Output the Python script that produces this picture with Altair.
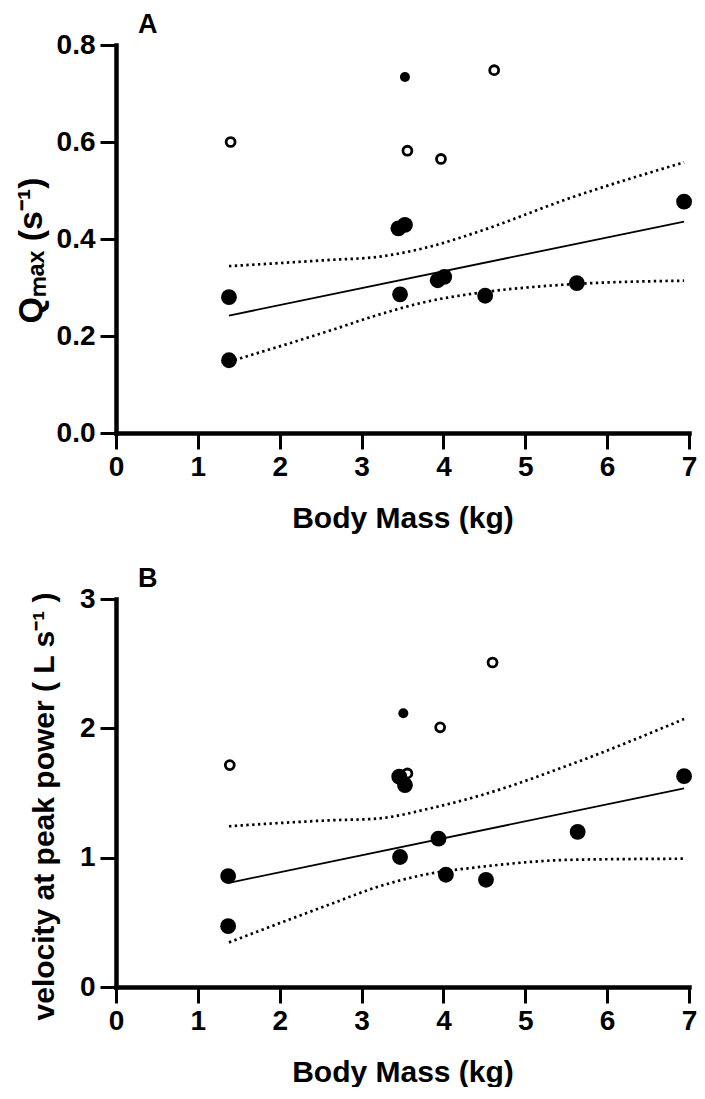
import altair as alt
import pandas as pd

# ---------------- data ----------------
# Panel A : Qmax (s^-1) vs body mass (kg)
a_filled_x = [1.38, 1.38, 3.47, 3.45, 3.53, 3.93, 4.01, 4.51, 5.63, 6.94]
a_filled_y = [0.280, 0.150, 0.286, 0.422, 0.429, 0.315, 0.322, 0.283, 0.309, 0.477]
a_small_x = [3.53]
a_small_y = [0.734]
a_open_x = [1.40, 3.56, 3.97, 4.62]
a_open_y = [0.600, 0.582, 0.565, 0.748]
a_fit_x = [1.38, 6.94]
a_fit_y = [0.242, 0.436]
ci_x = [1.38, 2.63, 3.19, 3.83, 4.39, 5.59, 6.94]
a_ci_upper = [0.344, 0.357, 0.363, 0.384, 0.413, 0.487, 0.558]
a_ci_lower = [0.147, 0.212, 0.243, 0.272, 0.288, 0.307, 0.314]

# Panel B : velocity at peak power (L s^-1) vs body mass (kg)
b_filled_x = [1.37, 1.37, 3.47, 3.46, 3.53, 3.94, 4.03, 4.52, 5.64, 6.94]
b_filled_y = [0.858, 0.470, 1.005, 1.626, 1.561, 1.147, 0.868, 0.829, 1.199, 1.630]
b_small_x = [3.51]
b_small_y = [2.116]
b_open_x = [1.39, 3.56, 3.96, 4.60]
b_open_y = [1.716, 1.651, 2.008, 2.509]
b_fit_x = [1.38, 6.94]
b_fit_y = [0.806, 1.535]
b_ci_upper = [1.243, 1.289, 1.302, 1.380, 1.470, 1.729, 2.072]
b_ci_lower = [0.345, 0.643, 0.773, 0.876, 0.924, 0.984, 0.992]

x_ticks = [0, 1, 2, 3, 4, 5, 6, 7]
a_y_ticks = [0.0, 0.2, 0.4, 0.6, 0.8]
b_y_ticks = [0, 1, 2, 3]

FONT = "Liberation Sans"


def panel(letter, fx, fy, sx, sy, ox, oy, fitx, fity, up, lo,
          ydom, yticks, yfmt, ytitle, ytitle_size, ytitle_pad, ytitle_y):
    xs = alt.Scale(domain=[0, 7], nice=False, zero=False)
    ys = alt.Scale(domain=ydom, nice=False, zero=False)
    xax = alt.Axis(values=x_ticks, format="d", title="Body Mass (kg)",
                   titlePadding=22, titleFontSize=30)
    yax = alt.Axis(values=yticks, format=yfmt, title=ytitle,
                   titlePadding=ytitle_pad, titleFontSize=ytitle_size,
                   titleY=ytitle_y)

    ci_df = pd.DataFrame({"x": ci_x * 2, "y": up + lo,
                          "band": ["upper"] * len(ci_x) + ["lower"] * len(ci_x)})
    fit_df = pd.DataFrame({"x": fitx, "y": fity})
    f_df = pd.DataFrame({"x": fx, "y": fy})
    s_df = pd.DataFrame({"x": sx, "y": sy})
    o_df = pd.DataFrame({"x": ox, "y": oy})

    ci = alt.Chart(ci_df).mark_line(color="black", strokeWidth=2.7,
                                    strokeDash=[2.4, 3.4], interpolate="monotone").encode(
        x=alt.X("x:Q", scale=xs, axis=xax),
        y=alt.Y("y:Q", scale=ys, axis=yax),
        detail="band:N")
    fit = alt.Chart(fit_df).mark_line(color="black", strokeWidth=1.8).encode(
        x=alt.X("x:Q", scale=xs, axis=xax), y=alt.Y("y:Q", scale=ys, axis=yax))
    filled = alt.Chart(f_df).mark_circle(size=250, color="black", opacity=1).encode(
        x=alt.X("x:Q", scale=xs, axis=xax), y=alt.Y("y:Q", scale=ys, axis=yax))
    small = alt.Chart(s_df).mark_circle(size=100, color="black", opacity=1).encode(
        x=alt.X("x:Q", scale=xs, axis=xax), y=alt.Y("y:Q", scale=ys, axis=yax))
    opn = alt.Chart(o_df).mark_point(shape="circle", filled=False, size=80,
                                     strokeWidth=2.8, color="black", opacity=1).encode(
        x=alt.X("x:Q", scale=xs, axis=xax), y=alt.Y("y:Q", scale=ys, axis=yax))

    return alt.layer(ci, fit, filled, small, opn).properties(
        width=573, height=388,
        title=alt.TitleParams(letter, anchor="start", frame="group", dx=22,
                              font=FONT, fontSize=27, fontWeight="bold",
                              color="black", offset=-8))


top = panel("A", a_filled_x, a_filled_y, a_small_x, a_small_y, a_open_x, a_open_y,
            a_fit_x, a_fit_y, a_ci_upper, a_ci_lower,
            [0, 0.8], a_y_ticks, ".1f", "Qₘₐₓ (s⁻¹)", 34, 8, 205)
bottom = panel("B", b_filled_x, b_filled_y, b_small_x, b_small_y, b_open_x, b_open_y,
               b_fit_x, b_fit_y, b_ci_upper, b_ci_lower,
               [0, 3], b_y_ticks, "d", "velocity at peak power ( L s⁻¹ )", 30, 20, 207)

chart = alt.vconcat(top, bottom, spacing=32).properties(
    padding={"left": 6, "top": 3, "right": 0, "bottom": 0},
    background="white"
).configure_view(strokeWidth=0).configure_axis(
    grid=False, domainWidth=4.5, domainColor="black", domainCap="square",
    tickWidth=3, tickColor="black", tickSize=16,
    labelFont=FONT, labelFontSize=28, labelFontWeight="bold", labelColor="black",
    labelPadding=4, labelFlush=False,
    titleFont=FONT, titleFontWeight="bold", titleColor="black"
).configure_axisY(labelPadding=5)

chart.save("out.html", embed_options={"renderer": "svg", "actions": False})
